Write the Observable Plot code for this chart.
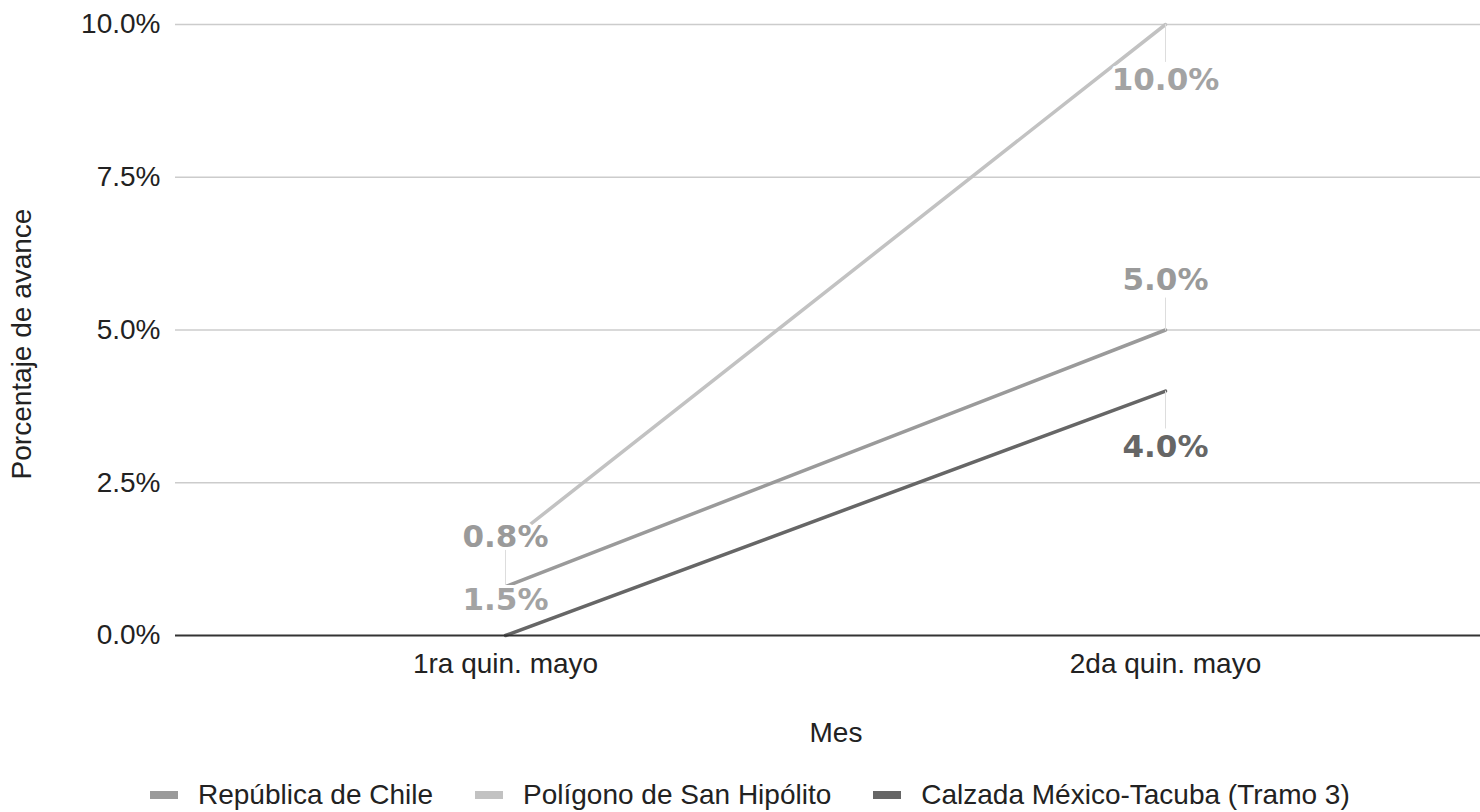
<!DOCTYPE html>
<html><head><meta charset="utf-8">
<script src="https://cdn.jsdelivr.net/npm/d3@7"></script>
<script src="https://cdn.jsdelivr.net/npm/@observablehq/plot@0.6"></script>
<style>
body{margin:0;background:#fff;font-family:"Liberation Sans",Arial,sans-serif;overflow:hidden;}
#legend{display:flex;align-items:center;padding-left:150px;margin-top:28px;height:34px;font-size:28px;color:#222;}
.item{display:flex;align-items:center;margin-right:42px}
.sw{width:28px;height:8px;margin-right:20px}
</style></head><body><div id="chart"></div><div id="legend"></div>
<script>
const categories = ["1ra quin. mayo", "2da quin. mayo"];
const seriesNames = ["República de Chile", "Polígono de San Hipólito", "Calzada México-Tacuba (Tramo 3)"];
const chileValues = [0.8, 5.0];
const poligonoValues = [1.5, 10.0];
const calzadaValues = [0.0, 4.0];
const yTicks = [0, 2.5, 5, 7.5, 10];
const lineColors = ["#9a9a9a", "#c2c2c2", "#666666"];
const labelColors = ["#9a9a9a", "#a3a3a3", "#666666"];
const labelAbove = [true, false, false];

const seriesValues = [chileValues, poligonoValues, calzadaValues];
const data = [];
seriesValues.forEach((vals, si) => vals.forEach((v, ci) => data.push({series: seriesNames[si], si, cat: categories[ci], value: v})));
const fmt = d => d.toFixed(1) + "%";
const leader = {draw(ctx, l) { ctx.moveTo(0, 0); ctx.lineTo(0, -l); }};

const marks = [
  Plot.ruleY(yTicks.filter(d => d > 0), {stroke: "#cccccc", strokeWidth: 1.3}),
  Plot.axisY({ticks: yTicks, tickFormat: fmt, tickSize: 0, tickPadding: 15, fontSize: 28, label: null}),
  Plot.axisX({tickSize: 0, tickPadding: 18, fontSize: 28, label: null}),
  Plot.text(["Porcentaje de avance"], {frameAnchor: "left", textAnchor: "middle", lineAnchor: "middle", rotate: -90, dx: -153, dy: 14, fontSize: 28}),
  Plot.text(["Mes"], {frameAnchor: "bottom", textAnchor: "middle", lineAnchor: "middle", dx: 8, dy: 98, fontSize: 28})
];
seriesNames.forEach((name, si) => {
  marks.push(Plot.line(data.filter(d => d.si === si), {x: "cat", y: "value", stroke: lineColors[si], strokeWidth: 3.5}));
});
marks.push(Plot.ruleY([0], {stroke: "#333333", strokeWidth: 2}));
seriesNames.forEach((name, si) => {
  const pts = data.filter(d => d.si === si && d.value > 0);
  const up = labelAbove[si];
  marks.push(Plot.vector(pts, {x: "cat", y: "value", length: up ? 32 : 37, rotate: up ? 0 : 180, anchor: "start", shape: leader, stroke: "#dddddd", strokeWidth: 1}));
});
seriesNames.forEach((name, si) => {
  const pts = data.filter(d => d.si === si && d.value > 0);
  const up = labelAbove[si];
  marks.push(Plot.text(pts, {x: "cat", y: "value", text: d => fmt(d.value), dy: up ? -50 : 56, fill: labelColors[si], stroke: "white", strokeWidth: 6, fontFamily: "DejaVu Sans", fontWeight: "bold", fontSize: 31}));
});

const chart = Plot.plot({
  width: 1480, height: 750,
  marginLeft: 175, marginRight: 0, marginTop: 24, marginBottom: 115,
  style: {fontFamily: "'Liberation Sans', Arial, sans-serif", fontSize: "28px", color: "#222", background: "#fff"},
  x: {type: "point", domain: categories, range: [505, 1165], padding: 0},
  y: {domain: [0, 10]},
  marks
});
document.getElementById("chart").appendChild(chart);

const legend = document.getElementById("legend");
seriesNames.forEach((name, si) => {
  const it = document.createElement("div"); it.className = "item";
  const sw = document.createElement("div"); sw.className = "sw"; sw.style.background = lineColors[si];
  const tx = document.createElement("span"); tx.textContent = name;
  it.appendChild(sw); it.appendChild(tx); legend.appendChild(it);
});
</script></body></html>
